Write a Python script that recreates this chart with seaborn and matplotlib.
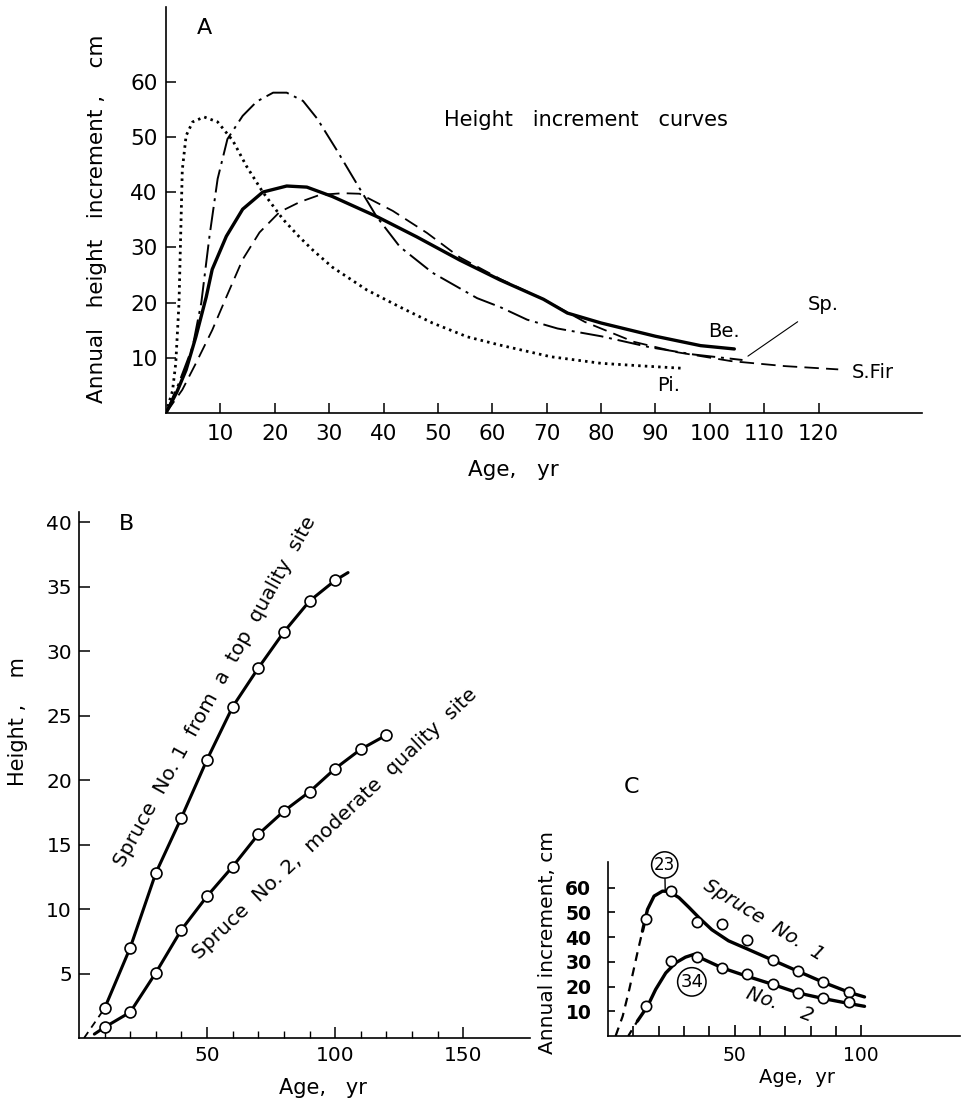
import numpy as np
import pandas as pd
import seaborn as sns
import matplotlib.pyplot as plt
from matplotlib.ticker import FixedLocator

# ---- panel A: height increment curves (age, cm/yr)
be_age = [0, 2, 3.7, 5.5, 7.4, 8.5, 11.1, 14.1, 17.8, 22.2, 25.9, 30.6, 38.7,
          46.1, 54, 61.4, 69.4, 73.8, 80, 90, 98.3, 104.5]
be_inc = [0, 3.8, 7.8, 13.8, 21, 26, 32, 36.9, 40, 41.1, 40.9, 39.2, 35.6,
          31.9, 27.7, 24.1, 20.6, 18.1, 16.3, 13.9, 12.2, 11.6]

fir_age = [0, 3, 5.5, 8.5, 11.1, 14.1, 17.2, 20.9, 24.6, 28.3, 32.5, 35.6, 41.7,
           48, 54, 61.4, 69.4, 77, 86, 94, 103.9, 113.7, 123.6]
fir_inc = [0, 4.2, 9, 15, 21, 27.8, 32.7, 36.4, 38.2, 39.5, 39.8, 39.7, 36.6,
           32.6, 28.2, 24.3, 20.6, 16.5, 12.9, 11, 9.4, 8.5, 7.9]

sp_age = [0, 2.4, 4.9, 6.5, 8, 9.5, 11.3, 14.1, 16.7, 19.7, 22.2, 25.2, 27.8,
          31.4, 34.3, 38.7, 43, 49, 57.2, 61.4, 66.4, 72, 80, 89, 97, 106]
sp_inc = [0, 5.5, 12, 20, 32, 42.4, 49.6, 53.8, 56.4, 58, 58, 56.5, 53.3,
          47.6, 42.8, 35.6, 30.1, 25.4, 20.8, 19.2, 16.9, 15.3, 13.9, 11.9, 10.6, 9.6]

pi_age = [0, 1.2, 1.8, 2.4, 2.7, 3.0, 3.7, 4.9, 7, 9.5, 12.3, 14.8, 17.8, 21.5,
          24.5, 27, 30.6, 36.9, 43, 49, 55.4, 61.4, 70.7, 80, 88, 95]
pi_inc = [0, 4, 9, 20, 32, 44, 50.2, 52.7, 53.6, 52.7, 49.3, 44.7, 40, 35.1,
          31.9, 29.5, 26.4, 22.3, 19.2, 16.3, 13.8, 12.3, 10.2, 9.0, 8.5, 8.1]

# ---- panel B: height over age (m)
b_age1 = [10, 20, 30, 40, 50, 60, 70, 80, 90, 100]
b_h1 = [2.3, 7.0, 12.8, 17.1, 21.6, 25.7, 28.7, 31.5, 33.9, 35.5]
b_line1_age = [10, 20, 30, 40, 50, 60, 70, 80, 90, 100, 105]
b_line1_h = [2.3, 7.0, 12.8, 17.1, 21.6, 25.7, 28.7, 31.5, 33.9, 35.5, 36.1]
b_dash1_age = [2, 10]
b_dash1_h = [0, 2.3]

b_age2 = [10, 20, 30, 40, 50, 60, 70, 80, 90, 100, 110, 120]
b_h2 = [0.83, 2.0, 5.06, 8.4, 11.0, 13.3, 15.8, 17.6, 19.1, 20.9, 22.4, 23.5]
b_line2_age = [6, 10, 20, 30, 40, 50, 60, 70, 80, 90, 100, 110, 120]
b_line2_h = [0.3, 0.83, 2.0, 5.06, 8.4, 11.0, 13.3, 15.8, 17.6, 19.1, 20.9, 22.4, 23.5]

# ---- panel C: annual increment (cm)
c_age = [15, 25, 35, 45, 55, 65, 75, 85, 95]
c_pts1 = [47.5, 58.5, 46, 45.3, 39, 30.8, 26.2, 21.7, 17.6]
c_pts2 = [12.2, 30.4, 31.8, 27.7, 25, 21, 17.4, 15.2, 13.6]

c_curve1_age = [13.6, 15.6, 18.2, 21.5, 24, 28, 32, 36, 41, 47.6, 54.8, 65, 75,
                85.3, 95.4, 101.3]
c_curve1_inc = [42.4, 51.2, 56.6, 58.6, 58.5, 56, 52, 47.8, 43, 38.5, 35.3,
                30.7, 26.2, 21.6, 17.6, 15.8]
c_dash1_age = [3, 5.8, 8.4, 11.6, 13.6]
c_dash1_inc = [0, 8, 18.8, 33.6, 42.4]

c_curve2_age = [11.6, 15.6, 18.8, 22.8, 26.7, 30.6, 33.9, 37.8, 45, 54.8, 65.3,
                75.1, 85.3, 95.4, 101.3]
c_curve2_inc = [6, 12, 18.8, 25.5, 29.6, 31.9, 33, 31, 27.6, 24.2, 20.8, 17.4,
                15.1, 13.1, 12]
c_dash2_age = [8, 11.6]
c_dash2_inc = [0, 6]

sns.set_style('ticks')
plt.rcParams['font.family'] = ['DejaVu Sans']
plt.rcParams.update({
    'xtick.direction': 'in', 'ytick.direction': 'in',
    'axes.linewidth': 1.2, 'axes.edgecolor': 'black',
    'text.color': 'black', 'axes.labelcolor': 'black',
    'xtick.color': 'black', 'ytick.color': 'black',
})

fig = plt.figure(figsize=(9.7, 11.02), dpi=100)
axa = fig.add_axes([0.1711, 0.6252, 0.7794, 0.3684])
axb = fig.add_axes([0.0814, 0.0581, 0.4650, 0.4773])
axc = fig.add_axes([0.6268, 0.0599, 0.3629, 0.1579])

for ax in (axa, axb, axc):
    sns.despine(ax=ax)

# ---------------- A
sns.lineplot(x=pi_age, y=pi_inc, ax=axa, color='k', linewidth=2.0,
             linestyle=(0, (0.9, 1.5)), estimator=None)
sns.lineplot(x=sp_age, y=sp_inc, ax=axa, color='k', linewidth=1.4,
             linestyle=(0, (12, 3, 1.5, 3)), estimator=None)
sns.lineplot(x=fir_age, y=fir_inc, ax=axa, color='k', linewidth=1.3,
             linestyle=(0, (8, 4)), estimator=None)
sns.lineplot(x=be_age, y=be_inc, ax=axa, color='k', linewidth=2.4,
             estimator=None)

axa.set_xlim(0, 139)
axa.set_ylim(0, 73.5)
axa.set_xticks(range(10, 130, 10))
axa.set_yticks(range(10, 70, 10))
axa.tick_params(axis='both', direction='in', labelsize=15.5, length=7, width=1.1)
axa.tick_params(axis='x', pad=8)
axa.tick_params(axis='y', pad=6)
axa.set_xlabel('Age,   yr', fontsize=15.5)
axa.xaxis.label.set_va('center')
axa.xaxis.set_label_coords(0.459, -0.140)
axa.set_ylabel('Annual   height   increment ,    cm', fontsize=15.5)
axa.yaxis.label.set_va('center')
axa.yaxis.set_label_coords(-0.0913, 0.478)

axa.text(7, 69.7, 'A', fontsize=16, ha='center', va='center')
axa.text(77.3, 53.1, 'Height   increment   curves', fontsize=15,
         ha='center', va='center')
axa.text(102.6, 14.7, 'Be.', fontsize=14, ha='center', va='center')
axa.annotate('Sp.', xy=(107, 10.3), xytext=(120.8, 19.7), fontsize=14,
             ha='center', va='center',
             arrowprops=dict(arrowstyle='-', lw=0.8, color='k',
                             shrinkA=6, shrinkB=0))
axa.text(130, 7.4, 'S.Fir', fontsize=14, ha='center', va='center')
axa.text(92.5, 4.9, 'Pi.', fontsize=14, ha='center', va='center')

# ---------------- B
sns.lineplot(x=b_dash1_age, y=b_dash1_h, ax=axb, color='k', linewidth=1.3,
             linestyle=(0, (4, 3)), estimator=None)
sns.lineplot(x=b_line1_age, y=b_line1_h, ax=axb, color='k', linewidth=2.2,
             estimator=None)
sns.lineplot(x=b_line2_age, y=b_line2_h, ax=axb, color='k', linewidth=2.2,
             estimator=None)
sns.scatterplot(x=b_age1, y=b_h1, ax=axb, color='white', edgecolor='k',
                linewidth=1.2, s=62, zorder=3)
sns.scatterplot(x=b_age2, y=b_h2, ax=axb, color='white', edgecolor='k',
                linewidth=1.2, s=62, zorder=3)

axb.set_xlim(0, 176)
axb.set_ylim(0, 40.8)
axb.set_xticks([50, 100, 150])
axb.xaxis.set_minor_locator(FixedLocator([10, 20, 30, 40, 60, 70, 80, 90,
                                          110, 120, 130, 140]))
axb.set_yticks(range(5, 45, 5))
axb.tick_params(axis='both', which='both', direction='in')
axb.tick_params(axis='both', labelsize=14.5, length=8, width=1.1)
axb.tick_params(axis='x', which='minor', length=5, width=1.0)
axb.tick_params(axis='x', pad=6)
axb.tick_params(axis='y', pad=5)
axb.set_xlabel('Age,   yr', fontsize=15)
axb.xaxis.label.set_va('center')
axb.xaxis.set_label_coords(0.541, -0.095)
axb.set_ylabel('Height ,    m', fontsize=15)
axb.yaxis.label.set_va('center')
axb.yaxis.set_label_coords(-0.135, 0.601)

axb.text(18.7, 39.9, 'B', fontsize=16, ha='center', va='center')
axb.text(53.1, 26.9, 'Spruce  No. 1  from  a  top  quality  site', fontsize=14.5,
         rotation=61, rotation_mode='anchor', ha='center', va='center')
axb.text(100, 16.6, 'Spruce  No. 2,  moderate  quality  site', fontsize=14.5,
         rotation=43.5, rotation_mode='anchor', ha='center', va='center')

# ---------------- C
sns.lineplot(x=c_dash1_age, y=c_dash1_inc, ax=axc, color='k', linewidth=1.6,
             linestyle=(0, (4, 3)), estimator=None)
sns.lineplot(x=c_dash2_age, y=c_dash2_inc, ax=axc, color='k', linewidth=1.6,
             linestyle=(0, (3, 3)), estimator=None)
sns.lineplot(x=c_curve1_age, y=c_curve1_inc, ax=axc, color='k', linewidth=2.4,
             estimator=None)
sns.lineplot(x=c_curve2_age, y=c_curve2_inc, ax=axc, color='k', linewidth=2.4,
             estimator=None)
sns.scatterplot(x=c_age, y=c_pts1, ax=axc, color='white', edgecolor='k',
                linewidth=1.2, s=55, zorder=3)
sns.scatterplot(x=c_age, y=c_pts2, ax=axc, color='white', edgecolor='k',
                linewidth=1.2, s=55, zorder=3)

axc.set_xlim(0, 139)
axc.set_ylim(0, 70.4)
axc.set_xticks([50, 100])
axc.xaxis.set_minor_locator(FixedLocator([10, 20, 30, 40, 60, 70, 80, 90]))
axc.set_yticks(range(10, 70, 10))
axc.tick_params(axis='both', which='both', direction='in')
axc.tick_params(axis='x', labelsize=13.5, length=8, width=1.2, pad=7)
axc.tick_params(axis='x', which='minor', length=7, width=1.2)
axc.tick_params(axis='y', labelsize=13.5, length=5, width=1.2, pad=12)
for lab in axc.get_yticklabels():
    lab.set_fontweight('bold')
axc.set_xlabel('Age,  yr', fontsize=14)
axc.xaxis.label.set_va('center')
axc.xaxis.set_label_coords(0.537, -0.236)
axc.set_ylabel('Annual increment, cm', fontsize=14.5)
axc.yaxis.label.set_va('center')
axc.yaxis.set_label_coords(-0.173, 0.54)

axc.text(9.4, 100.8, 'C', fontsize=16, ha='center', va='center', clip_on=False)
axc.annotate('23', xy=(22.6, 58.6), xytext=(22.4, 69.2), fontsize=12,
             ha='center', va='center', annotation_clip=False,
             bbox=dict(boxstyle='circle,pad=0.15', fc='white', ec='k', lw=1.1),
             arrowprops=dict(arrowstyle='-', lw=1.0, color='k',
                             shrinkA=0, shrinkB=0))
axc.text(33.1, 21.9, '34', fontsize=13, ha='center', va='center',
         bbox=dict(boxstyle='circle,pad=0.15', fc='white', ec='k', lw=1.1))
axc.text(61.4, 47, 'Spruce  No.  1', fontsize=14, style='italic',
         rotation=-31.7, rotation_mode='anchor', ha='center', va='center')
axc.text(67.7, 12.6, 'No.    2', fontsize=14, style='italic',
         rotation=-20, rotation_mode='anchor', ha='center', va='center')

fig.savefig('out.png', dpi=100)
